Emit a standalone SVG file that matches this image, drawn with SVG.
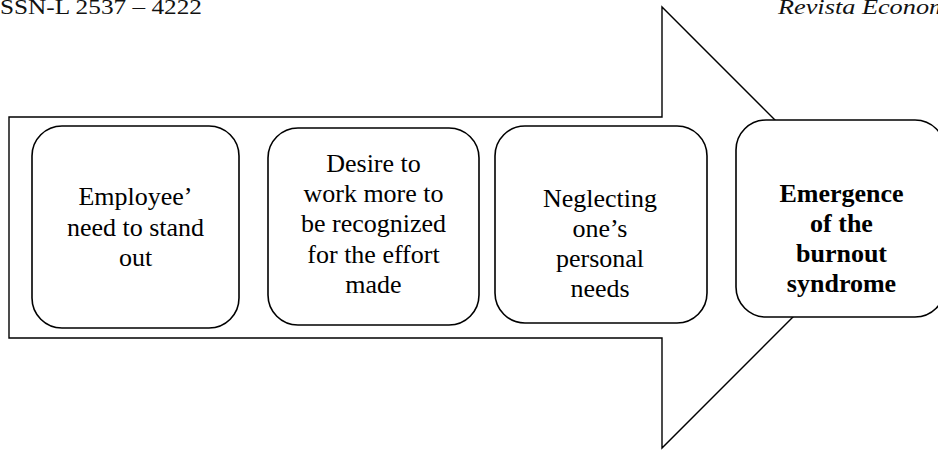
<svg xmlns="http://www.w3.org/2000/svg" width="938" height="450" viewBox="0 0 938 450">
<style>
.box{fill:#fff;stroke:#000;stroke-width:1.6}
.arrow{fill:#fff;stroke:#000;stroke-width:1.4}
.t{font-family:"Liberation Serif","Times New Roman",serif;font-size:26px;fill:#000;text-anchor:middle}
.b{font-weight:bold}
.hdr{font-family:"Liberation Serif","Times New Roman",serif;font-size:21px;fill:#111}
</style>
<rect width="938" height="450" fill="#fff"/>
<text class="hdr" x="0" y="14" textLength="202" lengthAdjust="spacingAndGlyphs">SSN-L 2537 – 4222</text>
<text class="hdr" x="778" y="14" font-style="italic" textLength="170" lengthAdjust="spacingAndGlyphs">Revista Econom</text>
<g id="connectors">
<polygon class="arrow" points="9,117 662,117 662,7 882.5,227.5 662,448 662,338 9,338"/>
</g>
<g id="node1">
<rect class="box" x="32" y="126" width="207" height="202" rx="30" ry="30"/>
<text class="t" x="135.5" y="205">Employee’</text>
<text class="t" x="135.5" y="236">need to stand</text>
<text class="t" x="135.5" y="266">out</text>
</g>
<g id="node2">
<rect class="box" x="268" y="128" width="211" height="197" rx="30" ry="30"/>
<text class="t" x="373.5" y="172">Desire to</text>
<text class="t" x="373.5" y="202">work more to</text>
<text class="t" x="373.5" y="232">be recognized</text>
<text class="t" x="373.5" y="263">for the effort</text>
<text class="t" x="373.5" y="293">made</text>
</g>
<g id="node3">
<rect class="box" x="495" y="126" width="212" height="197" rx="30" ry="30"/>
<text class="t" x="600" y="207">Neglecting</text>
<text class="t" x="600" y="237">one’s</text>
<text class="t" x="600" y="267">personal</text>
<text class="t" x="600" y="297">needs</text>
</g>
<g id="node4">
<rect class="box" x="736" y="120" width="209" height="197" rx="30" ry="30"/>
<text class="t b" x="841.5" y="202">Emergence</text>
<text class="t b" x="841.5" y="232">of the</text>
<text class="t b" x="841.5" y="262">burnout</text>
<text class="t b" x="841.5" y="292">syndrome</text>
</g>
</svg>
